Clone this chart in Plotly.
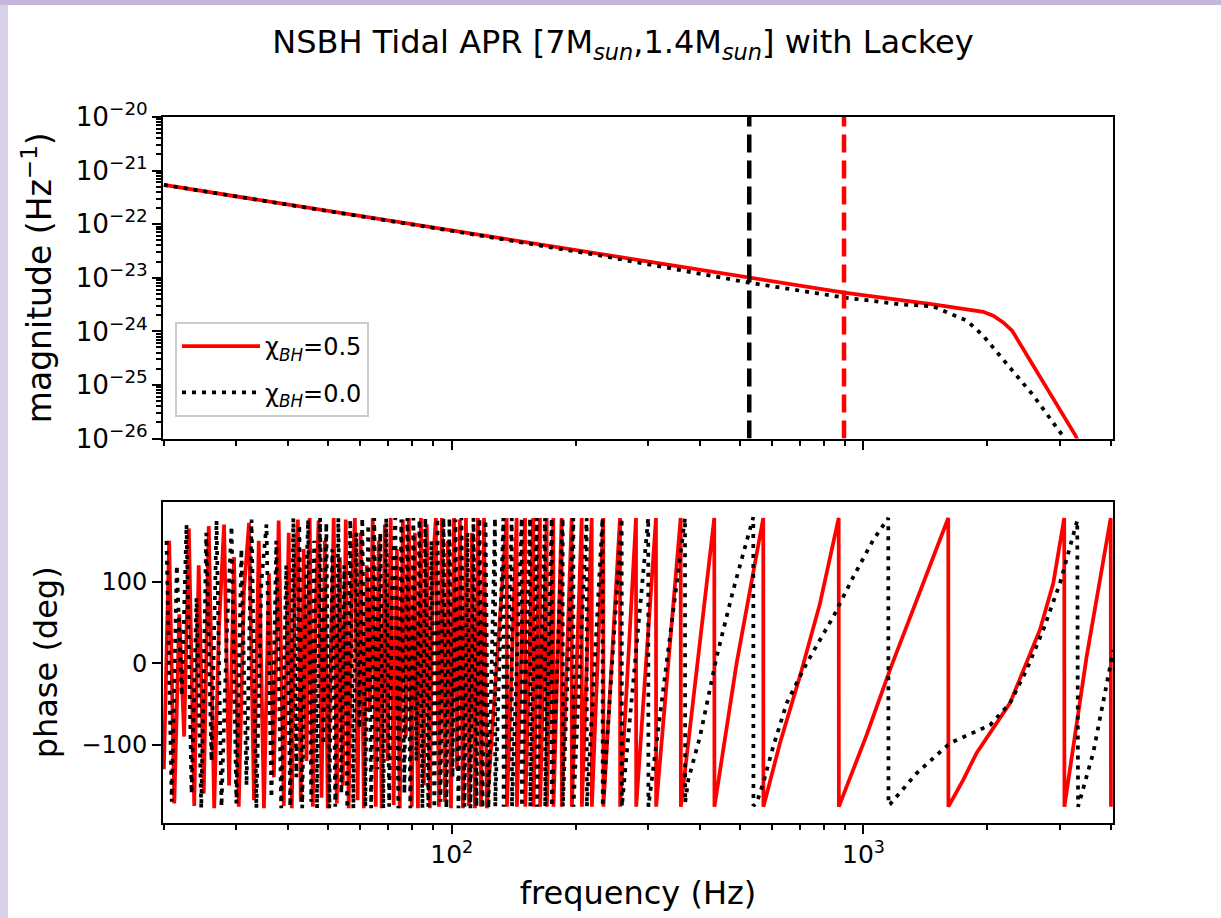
import plotly.graph_objects as go

# ---------------- data ----------------
# magnitude panel
freq_mag_red = [20, 42.8, 99, 229, 401, 527, 897, 1477, 1786, 1953, 2066, 2185, 2296, 2583, 2890, 3268, 3600]
mag_red = [5.4e-22, 2.13e-22, 7.7e-23, 2.77e-23, 1.40e-23, 1.0e-23, 5.3e-24, 3.2e-24, 2.6e-24,
           2.31e-24, 1.95e-24, 1.47e-24, 1.03e-24, 2.3e-25, 5.2e-26, 1.16e-26, 2.5e-27]
freq_mag_blk = [20, 42.8, 99, 229, 401, 527, 897, 1227, 1477, 1652, 1786, 1953, 2148, 2362, 2583, 2840, 3038, 3400]
mag_blk = [5.4e-22, 2.12e-22, 7.6e-23, 2.6e-23, 1.16e-23, 8.1e-24, 4.28e-24, 3.2e-24, 2.91e-24,
           2.0e-24, 1.57e-24, 8.3e-25, 3.5e-25, 1.5e-25, 6.4e-26, 2.36e-26, 1.16e-26, 2.0e-27]

cutoff_freqs = [528, 897]
cutoff_colors = ["black", "red"]

# phase panel: densely wrapped low-frequency part
freq_dense_red = [20.0, 20.6, 21.2, 21.8, 22.4, 23.0, 23.7, 24.3, 25.0, 25.7,
                  26.5, 27.2, 28.0, 28.8, 29.6, 30.4, 31.3, 32.2, 33.1, 34.0,
                  35.0, 36.0, 37.0, 38.0, 39.1,
                  40.2, 40.9, 41.6, 42.3, 43.0, 43.7, 44.4, 45.2, 46.0, 46.7,
                  47.5, 48.3, 49.2, 50.0, 50.9, 51.7, 52.6, 53.5, 54.4, 55.3,
                  56.2, 57.2, 58.2, 59.1, 60.1, 61.2, 62.2, 63.2, 64.3, 65.4,
                  66.5, 67.6, 68.8, 69.9, 71.1, 72.3, 73.6, 74.8, 76.1, 77.4,
                  78.7, 80.0, 81.4, 82.8, 84.2, 85.6, 87.0, 88.5, 90.0, 91.5,
                  93.1, 94.7, 96.3, 97.9, 99.6, 101.3, 103.0, 104.7, 106.5, 108.3,
                  110.1, 112.0, 113.9, 115.8, 117.8, 119.8, 121.8]
freq_dense_blk = [20.3, 20.9, 21.5, 22.1, 22.7, 23.35, 24.0, 24.65, 25.35, 26.1,
                  26.85, 27.6, 28.4, 29.2, 30.0, 30.85, 31.75, 32.65, 33.55, 34.5,
                  35.5, 36.5, 37.5, 38.55, 39.65,
                  40.55, 41.25, 41.95, 42.65, 43.35, 44.05, 44.8, 45.6, 46.35, 47.1,
                  47.9, 48.75, 49.6, 50.45, 51.3, 52.15, 53.05, 53.95, 54.85, 55.75,
                  56.7, 57.7, 58.65, 59.6, 60.65, 61.7, 62.7, 63.75, 64.85, 65.95,
                  67.05, 68.2, 69.35, 70.5, 71.7, 72.95, 74.2, 75.45, 76.75, 78.05,
                  79.35, 80.7, 82.1, 83.5, 84.9, 86.3, 87.75, 89.25, 90.75, 92.3,
                  93.9, 95.5, 97.1, 98.75, 100.45, 102.15, 103.85, 105.6, 107.4, 109.2,
                  111.05, 112.95, 114.85, 116.8, 118.8, 120.8, 122.8]
phase_dense_red = [-130, 150, -172, 60, -90, 165, -175, 120, -160, 168,
                   -178, 40, 170, -150, 130, -176, 90, 172, -168, 150,
                   -178, 110, -140, 175, -175,
                   160, -178, 100, 176, -170, 140, -120, 178, -176, 60,
                   175, -165, 150, -178, 20, 178, -172, 130, -150, 176,
                   -178, 90, 178, -168, 160, -178, 120, -60, 178, -176,
                   150, -178, 170, -120, 178, -174, 140, -178, 176, -90,
                   178, -176, 160, -178, 178, -150, 170, -178, 120, 178,
                   -176, 178, -170, 150, -178, 178, -130, 176, -178, 178,
                   -175, 160, -178, 178, -176, 178, -178]
phase_dense_blk = [150, -170, 120, -40, 170, -160, 80, -178, 160, -120,
                   175, -176, 30, 168, -172, 140, -150, 176, -178, 100,
                   170, -165, 150, -178, 120,
                   -176, 178, -140, 170, -178, 60, 176, -170, 150, -178,
                   178, -100, 172, -178, 140, -176, 178, -160, 120, -178,
                   176, -178, 160, -80, 178, -176, 170, -178, 178, -130,
                   160, -178, 178, -176, 100, 178, -178, 176, -160, 178,
                   -178, 178, -120, 176, -178, 178, -176, 150, -178, 178,
                   -170, 178, -178, 178, -140, 176, -178, 178, -176, 160,
                   -178, 178, -176, 178, -178, 176, -178]

# phase panel: resolved sawtooth part
freq_saw_red = [136.0, 136.2, 143.8, 144.0, 150.7, 150.9, 157.8, 158.0, 163.8, 164.0,
                170.1, 170.3, 176.5, 176.7, 184.9, 185.1, 195.6, 195.8, 206.9, 207.1,
                218.8, 219.0, 233.4, 233.6, 256.3, 256.5, 280.3, 280.6, 313.4, 313.7,
                359.8, 360.2, 434.2, 434.6, 492.0, 571.0, 571.5, 627.0, 701.0, 784.0,
                870.7, 871.5, 1018.0, 1160.0, 1346.0, 1606.8, 1608.0, 1747.0, 1883.0, 2269.0,
                2683.0, 2890.0, 3073.0, 3076.0, 3483.0, 3985.0, 3990.0]
phase_saw_red = [178, -176, 178, -176, 178, -176, 178, -176, 178, -176,
                 178, -176, 178, -176, 178, -176, 178, -176, 178, -176,
                 178, -176, 178, -176, 178, -176, 178, -176, 178, -176,
                 178, -176, 178, -176, 0, 178, -176, -98, -16, 73,
                 178, -176, -88, -8, 76, 178, -176, -143, -110, -49,
                 41, 98, 178, -176, 8, 178, -176]
freq_saw_blk = [127.4, 127.6, 133.5, 133.7, 139.9, 140.1, 147.9, 148.1, 155.0, 155.2,
                160.9, 161.1, 168.5, 168.7, 174.9, 175.1, 186.0, 186.2, 197.4, 197.6,
                212.7, 212.9, 232.4, 232.7, 258.7, 259.0, 300.1, 300.4, 368.6, 369.0,
                375.5, 400.9, 440.1, 482.9, 540.0, 540.5, 550.5, 571.0, 603.9, 651.0,
                727.8, 844.7, 945.1, 1056.0, 1148.7, 1150.0, 1160.0, 1346.0, 1622.0, 2029.0,
                2269.0, 2490.0, 2733.0, 3001.0, 3305.0, 3320.0, 3614.0, 3822.0, 4044.0]
phase_saw_blk = [178, -176, 178, -176, 178, -176, 178, -176, 178, -176,
                 178, -176, 178, -176, 178, -176, 178, -176, 178, -176,
                 178, -176, 178, -176, 178, -176, 178, -176, 178, -171,
                 -143, -90, 8, 90, 179, -175, -171, -147, -102, -49,
                 0, 57, 106, 151, 178, -174, -173, -135, -98, -76,
                 -49, -8, 41, 98, 175, -176, -110, -49, 16]

series_names = ["χ<sub><i>BH</i></sub>=0.5", "χ<sub><i>BH</i></sub>=0.0"]

freq_phase_red = freq_dense_red + freq_saw_red
phase_red = phase_dense_red + phase_saw_red
freq_phase_blk = freq_dense_blk + freq_saw_blk
phase_blk = phase_dense_blk + phase_saw_blk

# ---------------- figure ----------------
FONT = "DejaVu Sans"
LW = 3.75
DOT = "4px,6px"

fig = go.Figure()
fig.add_trace(go.Scatter(x=freq_mag_red, y=mag_red, mode="lines", name=series_names[0],
                         line=dict(color="red", width=LW), xaxis="x", yaxis="y",
                         legendgroup="a"))
fig.add_trace(go.Scatter(x=freq_mag_blk, y=mag_blk, mode="lines", name=series_names[1],
                         line=dict(color="black", width=LW, dash=DOT), xaxis="x", yaxis="y",
                         legendgroup="b"))
for f, c in zip(cutoff_freqs, cutoff_colors):
    fig.add_trace(go.Scatter(x=[f, f], y=[1e-26, 1e-20], mode="lines", showlegend=False,
                             line=dict(color=c, width=4.5, dash="18px,8px"),
                             xaxis="x", yaxis="y", hoverinfo="skip"))
fig.add_trace(go.Scatter(x=freq_phase_red, y=phase_red, mode="lines", showlegend=False,
                         line=dict(color="red", width=LW), xaxis="x2", yaxis="y2"))
fig.add_trace(go.Scatter(x=freq_phase_blk, y=phase_blk, mode="lines", showlegend=False,
                         line=dict(color="black", width=LW, dash=DOT), xaxis="x2", yaxis="y2"))

W, H = 1221, 918
ML, MR, MT, MB = 163, 108, 117, 95
PW, PH = W - ML - MR, H - MT - MB


def px_x(p):
    return (p - ML) / PW


def px_y(p):
    return (H - MB - p) / PH


common_axis = dict(showline=True, linewidth=2, linecolor="black", mirror=True,
                   showgrid=False, zeroline=False, ticks="outside", ticklen=9,
                   tickwidth=2, tickcolor="black")
log_minor = dict(ticks="outside", ticklen=5, tickwidth=1.5, tickcolor="black", dtick="D1",
                 showgrid=False)
xr = [1.2989, 3.606]

fig.update_layout(
    width=W, height=H, autosize=False,
    margin=dict(l=ML, r=MR, t=MT, b=MB, pad=0),
    paper_bgcolor="#d9d1e7", plot_bgcolor="white",
    font=dict(family=FONT, color="black", size=24),
    title=dict(text="NSBH Tidal APR [7M<sub><i>sun</i></sub>,1.4M<sub><i>sun</i></sub>] with Lackey",
               x=px_x(623), xref="paper", xanchor="center", y=1 - 42 / H, yanchor="middle",
               font=dict(size=32, family=FONT, color="black")),
    showlegend=True,
    legend=dict(x=px_x(175), y=px_y(322), xanchor="left", yanchor="top",
                bgcolor="rgba(255,255,255,0.85)", bordercolor="#cccccc", borderwidth=2,
                font=dict(size=24, family=FONT), tracegroupgap=12, itemwidth=78),
    xaxis=dict(type="log", range=xr, domain=[0, 1], anchor="y", dtick=1,
               showticklabels=False, minor=log_minor, **common_axis),
    yaxis=dict(type="log", range=[-26, -20], domain=[px_y(438.5), 1], anchor="x", dtick=1,
               exponentformat="power", tickfont=dict(size=21),
               title=dict(text="magnitude (Hz<sup>−1</sup>)", font=dict(size=33), standoff=14),
               minor=log_minor, **common_axis),
    xaxis2=dict(type="log", range=xr, domain=[0, 1], anchor="y2", dtick=1,
                exponentformat="power", tickfont=dict(size=20),
                title=dict(text="frequency (Hz)", font=dict(size=32), standoff=14),
                minor=log_minor, **common_axis),
    yaxis2=dict(range=[-196, 198], domain=[0, px_y(501.7)], anchor="x2",
                tickvals=[-100, 0, 100], tickfont=dict(size=24),
                title=dict(text="phase (deg)", font=dict(size=32), standoff=14),
                **common_axis),
    shapes=[
        dict(type="rect", xref="paper", yref="paper", x0=px_x(8), x1=px_x(1240),
             y0=px_y(940), y1=px_y(5), fillcolor="white", line=dict(width=0), layer="below"),
        dict(type="rect", xref="paper", yref="paper", x0=px_x(-20), x1=px_x(1240),
             y0=px_y(5), y1=px_y(-20), fillcolor="#c4b5da", line=dict(width=0), layer="below"),
    ],
)

fig.write_html("out.html")
